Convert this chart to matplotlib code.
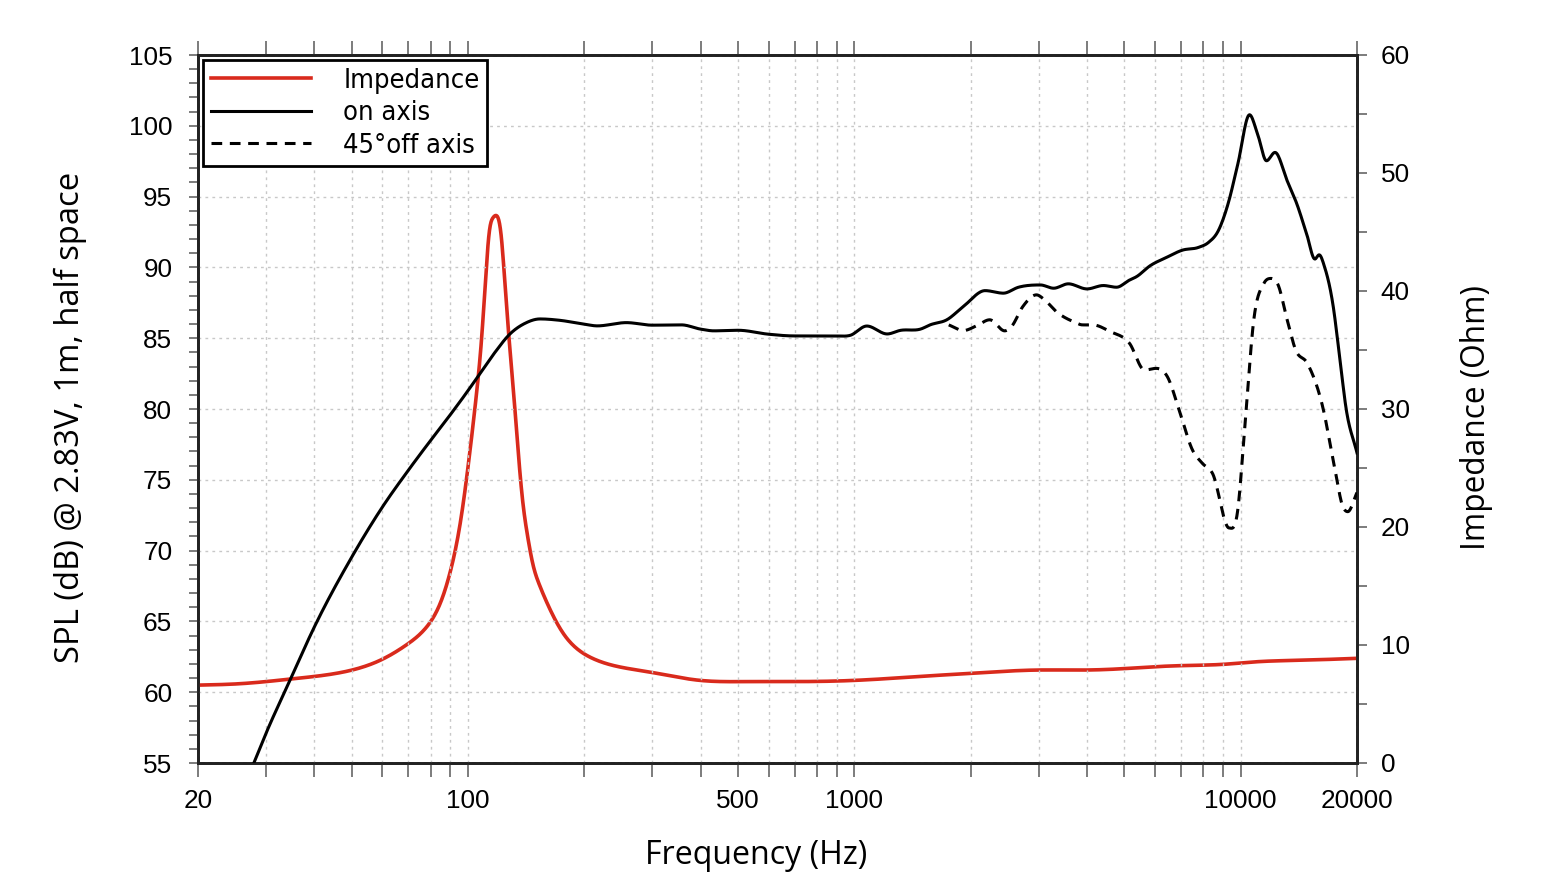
import numpy as np
import matplotlib
matplotlib.use("Agg")
import matplotlib.pyplot as plt
from matplotlib.ticker import FixedLocator, NullFormatter, FixedFormatter
from matplotlib.font_manager import FontProperties

# ---------------- data ----------------
imp_freq = [20, 25.7, 35.3, 49.7, 59.2, 69.2, 78, 84.4, 89.6, 95.1, 100, 104.7, 108.6,
            110, 113.5, 116, 118, 120.5, 122, 125.3, 128.4, 131.7, 134.4, 138.5, 143,
            147.8, 152.6, 161, 178, 209, 296, 399, 535, 720, 1000, 1500, 2000, 3000, 4000,
            5000, 6000, 7000, 9000, 11000, 14000, 20000]
imp_ohm = [6.6, 6.72, 7.14, 7.85, 8.7, 10.0, 11.5, 13.4, 16.0, 20.0, 25.1, 30.7, 36.3,
           39.0, 45.0, 46.2, 46.4, 45.8, 44.5, 39.5, 35.0, 30.7, 27.0, 22.2, 19.0,
           16.6, 15.2, 13.4, 10.8, 8.9, 7.7, 7.0, 6.9, 6.9, 7.0, 7.35, 7.6, 7.88, 7.88,
           8.0, 8.16, 8.25, 8.36, 8.58, 8.7, 8.87]

on_freq = [27.9, 30, 34.6, 40, 50, 60, 70, 80, 90, 100, 108.6, 117.4, 128.4, 140.4, 153.6,
           172, 200, 216, 257, 300, 357, 400, 433, 500, 600, 700, 800, 900, 975,
           1077, 1216, 1314, 1490, 1570, 1735, 1915, 2180, 2430, 2660, 3030, 3280, 3580,
           4000, 4410, 4770, 5150, 5370, 5830, 6420, 7070, 7770, 8250, 8750, 9270, 9830,
           10540, 11060, 11660, 12270, 13190, 13980, 14820, 15560, 15960, 16500, 17320,
           18000, 18720, 20000]
on_spl = [55.0, 57.1, 60.84, 64.6, 69.54, 73.07, 75.66, 77.78, 79.6, 81.3, 82.7, 84.0,
          85.3, 86.05, 86.36, 86.27, 85.99, 85.87, 86.1, 85.92, 85.94, 85.64, 85.52, 85.56,
          85.28, 85.16, 85.16, 85.16, 85.2, 85.86, 85.3, 85.55, 85.66, 85.94, 86.3, 87.24,
          88.36, 88.18, 88.6, 88.76, 88.53, 88.84, 88.48, 88.72, 88.6, 89.1, 89.34, 90.12,
          90.7, 91.22, 91.41, 91.76, 92.59, 94.47, 97.3, 100.78, 99.41, 97.53, 98.12, 96.12,
          94.47, 92.35, 90.59, 90.89, 90.0, 87.41, 83.88, 80.12, 76.9]

off_freq = [1755, 1915, 2070, 2240, 2450, 2550, 2730, 2960, 3110, 3330, 3680, 3900, 4140,
            4590, 5150, 5640, 6040, 6460, 6930, 7500, 7960, 8450, 9330, 9800, 10290, 10800,
            11480, 12000, 12480, 13190, 13860, 14880, 16300, 17480, 18380, 18930, 20000]
off_spl = [85.94, 85.54, 85.87, 86.3, 85.52, 85.82, 87.24, 88.06, 87.7, 86.88, 86.18,
           85.94, 85.94, 85.47, 84.65, 82.75, 82.87, 82.28, 79.93, 77.11, 76.16, 75.46,
           71.6, 72.64, 79.4, 86.2, 88.87, 89.22, 88.8, 86.3, 84.2, 83.22, 80.16, 75.93,
           73.11, 72.75, 74.1]

labels = ["Impedance", "on axis", "45°off axis"]
xtick_vals = [20, 100, 500, 1000, 10000, 20000]
xtick_labels = ["20", "100", "500", "1000", "10000", "20000"]
left_ticks = [55, 60, 65, 70, 75, 80, 85, 90, 95, 100, 105]
right_ticks = [0, 10, 20, 30, 40, 50, 60]


def hermite(xf, yv, n=1500):
    lx = np.log10(np.asarray(xf, float))
    yv = np.asarray(yv, float)
    g = np.linspace(lx[0], lx[-1], n)
    d = np.diff(yv) / np.diff(lx)
    m = np.zeros_like(yv)
    m[0], m[-1] = d[0], d[-1]
    for i in range(1, len(yv) - 1):
        if d[i - 1] * d[i] <= 0:
            m[i] = 0.0
        else:
            w1 = lx[i + 1] - lx[i]
            w0 = lx[i] - lx[i - 1]
            m[i] = (d[i - 1] * w1 + d[i] * w0) / (w0 + w1)
    idx = np.clip(np.searchsorted(lx, g) - 1, 0, len(lx) - 2)
    h = lx[idx + 1] - lx[idx]
    t = (g - lx[idx]) / h
    h00 = 2 * t**3 - 3 * t**2 + 1
    h10 = t**3 - 2 * t**2 + t
    h01 = -2 * t**3 + 3 * t**2
    h11 = t**3 - t**2
    out = h00 * yv[idx] + h10 * h * m[idx] + h01 * yv[idx + 1] + h11 * h * m[idx + 1]
    return 10**g, out


def natural_spline(xf, yv, n=1500):
    x = np.log10(np.asarray(xf, float))
    y = np.asarray(yv, float)
    N = len(x)
    h = np.diff(x)
    A = np.zeros((N, N))
    b = np.zeros(N)
    A[0, 0] = A[-1, -1] = 1
    for i in range(1, N - 1):
        A[i, i - 1] = h[i - 1]
        A[i, i] = 2 * (h[i - 1] + h[i])
        A[i, i + 1] = h[i]
        b[i] = 6 * ((y[i + 1] - y[i]) / h[i] - (y[i] - y[i - 1]) / h[i - 1])
    M = np.linalg.solve(A, b)
    g = np.linspace(x[0], x[-1], n)
    idx = np.clip(np.searchsorted(x, g) - 1, 0, N - 2)
    xi, xi1, hi = x[idx], x[idx + 1], h[idx]
    out = (M[idx] * (xi1 - g)**3 / (6 * hi) + M[idx + 1] * (g - xi)**3 / (6 * hi)
           + (y[idx] / hi - M[idx] * hi / 6) * (xi1 - g)
           + (y[idx + 1] / hi - M[idx + 1] * hi / 6) * (g - xi))
    return 10**g, out


plt.rcParams['font.family'] = ['Liberation Sans', 'DejaVu Sans']

W, H = 1546, 891
fig = plt.figure(figsize=(W / 100, H / 100), dpi=100)
ax = fig.add_axes([198 / W, 1 - 763 / H, (1357 - 198) / W, (763 - 55) / H])
ax2 = ax.twinx()

ax.set_xscale('log')
ax.set_xlim(20, 20000)
ax.set_ylim(55, 105)
ax2.set_ylim(0, 60)

minor_x = [v * d for d in (10, 100, 1000) for v in range(2, 10)]
minor_x = [v for v in minor_x if 20 < v < 20000 and v not in xtick_vals]
ax.xaxis.set_major_locator(FixedLocator(xtick_vals))
ax.xaxis.set_major_formatter(FixedFormatter(xtick_labels))
ax.xaxis.set_minor_locator(FixedLocator(minor_x))
ax.xaxis.set_minor_formatter(NullFormatter())
ax.yaxis.set_major_locator(FixedLocator(left_ticks))
ax.yaxis.set_minor_locator(FixedLocator(list(range(55, 106))))
ax2.yaxis.set_major_locator(FixedLocator(right_ticks))
ax2.yaxis.set_minor_locator(FixedLocator(list(range(5, 60, 10))))

gridkw = dict(color='#c8c8c8', linestyle=(0, (2, 3)), linewidth=1.0)
ax.grid(True, which='both', axis='x', **gridkw)
ax.grid(True, which='major', axis='y', **gridkw)
ax.set_axisbelow(True)

tickc = '#666666'
ax.tick_params(axis='x', which='both', direction='out', length=10, width=1.2, color=tickc,
               top=True, labeltop=False, labelsize=18.8, pad=8.5)
ax.tick_params(axis='y', which='both', direction='out', length=6.5, width=1.2, color=tickc,
               labelsize=18.8, pad=12)
ax2.tick_params(axis='y', which='both', direction='out', length=7, width=1.2, color=tickc,
                labelsize=18.8, pad=10)
for a in (ax, ax2):
    for s in a.spines.values():
        s.set_linewidth(2)
        s.set_color('#222222')

fx, fy = natural_spline(imp_freq, np.log(imp_ohm))
l1, = ax2.plot(fx, np.exp(fy), color='#d92a1c', lw=2.6, label=labels[0], zorder=3)
fx, fy = hermite(on_freq, on_spl)
l2, = ax.plot(fx, fy, color='black', lw=2.2, label=labels[1], zorder=4)
fx, fy = hermite(off_freq, off_spl)
l3, = ax.plot(fx, fy, color='black', lw=2.2, linestyle=(0, (3.5, 2.5)), label=labels[2], zorder=4)
ax.set_zorder(ax2.get_zorder() + 1)
ax.patch.set_visible(False)

legprop = FontProperties(family=['DejaVu Sans'], stretch='condensed', size=19.5)
leg = ax.legend(handles=[l1, l2, l3], loc='upper left',
                bbox_to_anchor=(5 / 1159, 1 - 5 / 708), borderaxespad=0,
                fancybox=False, edgecolor='black', framealpha=1, handlelength=3.7,
                handletextpad=1.2, borderpad=0.28, labelspacing=0.24, prop=legprop)
leg.get_frame().set_linewidth(2)

lab_font = ['Open Sans', 'DejaVu Sans']
fig.text(756.5 / W, 1 - 856 / H, "Frequency (Hz)", fontsize=23.1, family=lab_font,
         ha='center', va='center')
fig.text(70 / W, 1 - 417 / H, "SPL (dB) @ 2.83V, 1m, half space", fontsize=23.6,
         family=lab_font, rotation=90, ha='center', va='center')
fig.text(1476.5 / W, 1 - 417.5 / H, "Impedance (Ohm)", fontsize=22.8, family=lab_font,
         rotation=90, ha='center', va='center')

fig.savefig("out.png", dpi=100, facecolor='white')
